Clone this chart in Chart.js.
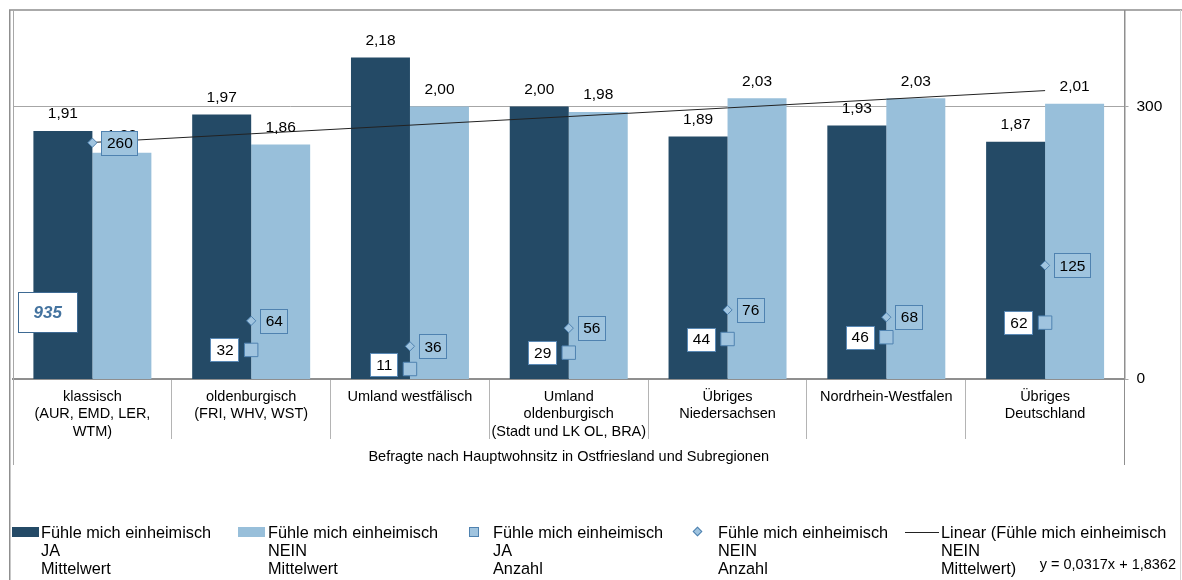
<!DOCTYPE html>
<html lang="de">
<head>
<meta charset="utf-8">
<title>Heimatgefühl nach Hauptwohnsitz</title>
<script src="https://cdn.jsdelivr.net/npm/chart.js@4.4.1/dist/chart.umd.min.js"></script>
<style>
  html, body { margin: 0; padding: 0; background: #fff; }
  #wrap { position: relative; width: 1182px; height: 580px; font-family: "Liberation Sans", Arial, sans-serif; }
  #c { position: absolute; left: 0; top: 0; }
  .lg-text { position: absolute; font-size: 16.3px; line-height: 18.3px; color: #000; white-space: nowrap; }
  .lg-key { position: absolute; box-sizing: border-box; }
</style>
</head>
<body>
<div id="wrap">
  <canvas id="c" width="1182" height="580"></canvas>
  <div id="legend"></div>
</div>
<script>
// ---- data ----
const categories = [
  ["klassisch", "(AUR, EMD, LER,", "WTM)"],
  ["oldenburgisch", "(FRI, WHV, WST)"],
  ["Umland westfälisch"],
  ["Umland", "oldenburgisch", "(Stadt und LK OL, BRA)"],
  ["Übriges", "Niedersachsen"],
  ["Nordrhein-Westfalen"],
  ["Übriges", "Deutschland"]
];
const jaMittelwert   = [1.91, 1.97, 2.18, 2.00, 1.89, 1.93, 1.87];
const neinMittelwert = [1.83, 1.86, 2.00, 1.98, 2.03, 2.03, 2.01];
const jaAnzahl       = [935, 32, 11, 29, 44, 46, 62];
const neinAnzahl     = [260, 64, 36, 56, 76, 68, 125];
const countTicks     = [0, 300];
const trendSlope     = 0.0317;
const trendIntercept = 1.8362;
const seriesNames = [
  ["Fühle mich einheimisch", "JA", "Mittelwert"],
  ["Fühle mich einheimisch", "NEIN", "Mittelwert"],
  ["Fühle mich einheimisch", "JA", "Anzahl"],
  ["Fühle mich einheimisch", "NEIN", "Anzahl"],
  ["Linear (Fühle mich einheimisch", "NEIN", "Mittelwert)"]
];
const axisTitle = "Befragte nach Hauptwohnsitz in Ostfriesland und Subregionen";

// ---- style ----
const FONT = '"Liberation Sans", Arial, sans-serif';
const DARK = '#244a66';
const LIGHT = '#98bfda';
const MARK_FILL = '#a0c4df';
const MARK_EDGE = '#4f82b0';

const de = (v, d) => v.toFixed(d).replace('.', ',');
const trendValues = categories.map((_, i) => trendIntercept + trendSlope * (i + 1));
const equationText = 'y = ' + de(trendSlope, 4) + 'x + ' + de(trendIntercept, 4);

function box(ctx, x, y, w, h, fill, stroke) {
  const L = Math.round(x) + 0.5, T = Math.round(y) + 0.5;
  ctx.fillStyle = fill;
  ctx.fillRect(L, T, Math.round(w), Math.round(h));
  ctx.strokeStyle = stroke;
  ctx.lineWidth = 1;
  ctx.strokeRect(L, T, Math.round(w), Math.round(h));
}

// value labels above bars and boxed count labels next to markers
const labelPlugin = {
  id: 'valueLabels',
  afterDatasetsDraw(chart) {
    const { ctx, chartArea } = chart;
    const y1 = chart.scales.y1;
    ctx.save();
    ctx.font = '15.5px ' + FONT;
    ctx.textAlign = 'center';
    ctx.textBaseline = 'middle';
    ctx.fillStyle = '#000';
    [0, 1].forEach(di => {
      chart.getDatasetMeta(di).data.forEach((bar, i) => {
        ctx.fillText(de(chart.data.datasets[di].data[i], 2), bar.x, bar.y - 17);
      });
    });

    // NEIN Anzahl: boxes to the right of the diamonds
    chart.getDatasetMeta(4).data.forEach((p, i) => {
      const t = String(neinAnzahl[i]);
      const w = ctx.measureText(t).width + 10, h = 24;
      const left = p.x + 9, top = p.y - h / 2;
      box(ctx, left, top, w, h, '#9fc4de', MARK_EDGE);
      ctx.fillStyle = '#000';
      ctx.fillText(t, left + w / 2 + 0.5, p.y + 1);
    });

    // JA Anzahl: white boxes to the left of the squares
    chart.getDatasetMeta(3).data.forEach((p, i) => {
      const v = jaAnzahl[i];
      const t = String(v);
      if (v > y1.max) {
        // value beyond the count axis: label kept inside the plot
        const w = 59, h = 40;
        const cx = p.x - 44.6, cy = chartArea.bottom - 67;
        box(ctx, cx - w / 2, cy - h / 2, w, h, '#ffffff', '#3e6a93');
        ctx.font = 'italic bold 17px ' + FONT;
        ctx.fillStyle = '#44739f';
        ctx.fillText(t, cx, cy + 1);
        ctx.font = '15.5px ' + FONT;
        ctx.fillStyle = '#000';
        return;
      }
      const w = ctx.measureText(t).width + 11, h = 23;
      const right = p.x - 12.5;
      const cy = Math.min(p.y, chartArea.bottom - 3 - h / 2);
      box(ctx, right - w, cy - h / 2, w, h, '#ffffff', '#5a89b5');
      ctx.fillStyle = '#000';
      ctx.fillText(t, right - w / 2 + 0.5, cy + 1);
    });
    ctx.restore();
  }
};

// frame around the chart and lines continuing past the category labels
const framePlugin = {
  id: 'frame',
  afterDraw(chart) {
    const { ctx, chartArea } = chart;
    ctx.save();
    ctx.strokeStyle = '#8f8f8f';
    ctx.lineWidth = 1.5;
    ctx.beginPath();
    ctx.moveTo(9, 10); ctx.lineTo(1182, 10);
    ctx.moveTo(9.75, 10); ctx.lineTo(9.75, 580);
    ctx.stroke();
    ctx.lineWidth = 1;
    ctx.strokeStyle = '#a8a8a8';
    ctx.beginPath();
    ctx.moveTo(Math.round(chartArea.left) + 0.5, 10); ctx.lineTo(Math.round(chartArea.left) + 0.5, 465);
    ctx.stroke();
    ctx.strokeStyle = '#8f8f8f';
    ctx.beginPath();
    ctx.moveTo(chartArea.right, chartArea.bottom); ctx.lineTo(chartArea.right, 465);
    ctx.stroke();
    ctx.strokeStyle = '#d4d4d4';
    ctx.beginPath();
    ctx.moveTo(1180.5, 10); ctx.lineTo(1180.5, 580);
    ctx.stroke();
    ctx.restore();
  }
};

const chart = new Chart(document.getElementById('c'), {
  type: 'bar',
  data: {
    labels: categories,
    datasets: [
      { label: seriesNames[0].join(' '), data: jaMittelwert, backgroundColor: DARK, yAxisID: 'y', order: 4,
        categoryPercentage: 0.743, barPercentage: 1.0 },
      { label: seriesNames[1].join(' '), data: neinMittelwert, backgroundColor: LIGHT, yAxisID: 'y', order: 4,
        categoryPercentage: 0.743, barPercentage: 1.0 },
      { type: 'line', label: seriesNames[4].join(' '), data: trendValues, yAxisID: 'y', order: 3,
        borderColor: '#222', borderWidth: 1, pointRadius: 0, fill: false, tension: 0 },
      { type: 'line', label: seriesNames[2].join(' '), data: jaAnzahl, yAxisID: 'y1', order: 1,
        showLine: false, pointStyle: 'rect', pointRadius: 9.5, pointBackgroundColor: MARK_FILL,
        pointBorderColor: MARK_EDGE, pointBorderWidth: 1 },
      { type: 'line', label: seriesNames[3].join(' '), data: neinAnzahl, yAxisID: 'y1', order: 2,
        showLine: false, pointStyle: 'rectRot', pointRadius: 4.6, pointBackgroundColor: MARK_FILL,
        pointBorderColor: MARK_EDGE, pointBorderWidth: 1 }
    ]
  },
  options: {
    responsive: false,
    animation: false,
    layout: { padding: { left: 13, top: 10, right: 0, bottom: 0 } },
    plugins: { legend: { display: false }, tooltip: { enabled: false } },
    scales: {
      x: {
        offset: true,
        grid: { offset: true, drawOnChartArea: false, drawTicks: true, tickLength: 60, color: '#b4b4b4', lineWidth: 1 },
        border: { display: true, color: '#8f8f8f', width: 2 },
        ticks: { font: { family: FONT, size: 14.5, lineHeight: 1.2 }, color: '#000', padding: -50.7,
                 maxRotation: 0, minRotation: 0, autoSkip: false },
        title: { display: true, text: axisTitle, color: '#000', font: { family: FONT, size: 14.5, lineHeight: 1.2 },
                 padding: { top: 0, bottom: 114.3 } },
        afterFit(s) { s.height = 201; }
      },
      y: { display: false, min: 1, max: 2.352 },
      y1: {
        position: 'right', min: 0, max: 405.5,
        afterBuildTicks(s) { s.ticks = countTicks.map(v => ({ value: v })); },
        ticks: { font: { family: FONT, size: 15.5 }, color: '#000', padding: 8 },
        grid: { drawOnChartArea: true, drawTicks: true, tickLength: 4, color: '#a6a6a6', lineWidth: 1 },
        border: { display: true, color: '#8f8f8f', width: 1.5 },
        afterFit(s) { s.width = 57.5; s.paddingTop = 0; s.paddingBottom = 0; }
      }
    }
  },
  plugins: [labelPlugin, framePlugin]
});

// ---- legend ----
(function buildLegend() {
  const host = document.getElementById('legend');
  const textLeft = [41, 268, 493, 718, 941];
  const keys = [
    { l: 12, t: 527, w: 27, h: 10, bg: DARK },
    { l: 238, t: 527, w: 27, h: 10, bg: LIGHT },
    { l: 469, t: 527, w: 10, h: 10, bg: MARK_FILL, border: '1px solid ' + MARK_EDGE },
    { l: 693.5, t: 528, w: 7, h: 7, bg: MARK_FILL, border: '1px solid ' + MARK_EDGE, rot: true },
    { l: 905, t: 531.5, w: 34, h: 1, bg: '#222' }
  ];
  seriesNames.forEach((lines, i) => {
    const k = keys[i];
    const key = document.createElement('div');
    key.className = 'lg-key';
    key.style.cssText = `left:${k.l}px;top:${k.t}px;width:${k.w}px;height:${k.h}px;background:${k.bg};` +
      (k.border ? `border:${k.border};` : '') + (k.rot ? 'transform:rotate(45deg);' : '');
    host.appendChild(key);
    const tx = document.createElement('div');
    tx.className = 'lg-text';
    tx.style.left = textLeft[i] + 'px';
    tx.style.top = '522.5px';
    tx.innerHTML = lines.join('<br>');
    host.appendChild(tx);
  });
  const eq = document.createElement('div');
  eq.className = 'lg-text';
  eq.style.cssText = 'right:6px;top:555px;font-size:14.5px;';
  eq.textContent = equationText;
  host.appendChild(eq);
})();
</script>
</body>
</html>
